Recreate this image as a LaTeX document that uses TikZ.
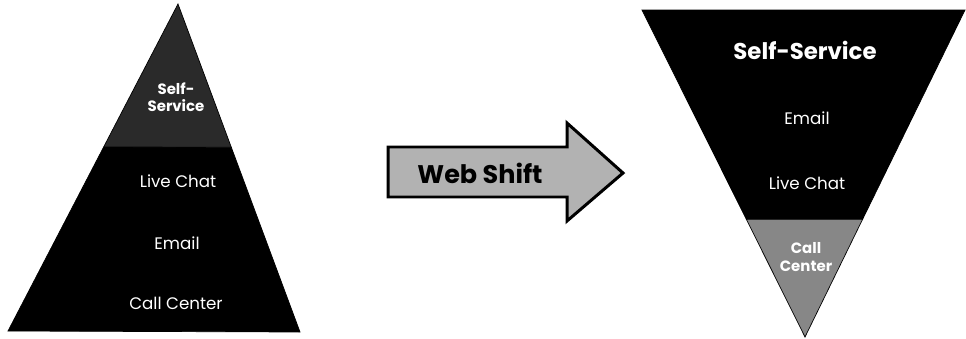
\documentclass[tikz,border=0pt]{standalone}
\usepackage{fontspec}
\setmainfont{Poppins}
\usepackage{xcolor}
\usepackage{tikz}
\usetikzlibrary{calc}
\definecolor{tipgray}{RGB}{42,42,42}
\definecolor{basegray}{RGB}{135,135,135}
\definecolor{shiftgray}{RGB}{178,178,178}
\tikzset{
  layer/.style={
    fill=black,
    draw=black,
    line join=miter
  },
  layer2/.style={
    fill=tipgray,
    draw=black,
    line join=miter
  },
  layer3/.style={
    fill=basegray,
    draw=black,
    line join=miter
  },
  lbl/.style={
    text=white,
    align=center,
    inner sep=0pt,
    font=\fontsize{9.5}{11}\selectfont
  },
  lblbold/.style={
    text=white,
    align=center,
    inner sep=0pt,
    font=\bfseries\fontsize{8.5}{10}\selectfont
  },
  shiftarrow/.style={
    fill=shiftgray,
    draw=black,
    line width=1.7pt,
    line join=miter
  }
}

\begin{document}
\begin{tikzpicture}[x=0.02cm,y=-0.02cm]
\useasboundingbox (0,0) rectangle (966,338);
% left pyramid
\coordinate (ltop) at (178,4);
\coordinate (lbl) at (8,331);
\coordinate (lbr) at (300,332);
\coordinate (lcutl) at ($(ltop)!0.437!(lbl)$);
\coordinate (lcutr) at ($(ltop)!0.437!(lbr)$);
\fill[layer] (lcutl) -- (lbl) -- (lbr) -- (lcutr) -- cycle;
\fill[layer2] (ltop) -- (lcutl) -- (lcutr) -- cycle;
\node[lblbold] (lself) at (176,97) {Self-\\Service};
\node[lbl] (lchat) at (178,181) {Live Chat};
\node[lbl] (lmail) at (177,243) {Email};
\node[lbl] (lcall) at (176,303) {Call Center};
% arrow
\draw[shiftarrow] (388,147) -- (567,147) -- (567,123) -- (623,173)
  -- (567,221) -- (567,197) -- (388,197) -- cycle;
\node[lbl, text=black, font=\bfseries\fontsize{14.5}{16}\selectfont] (shift) at (480,173) {Web Shift};
% right pyramid
\coordinate (rtl) at (642,10);
\coordinate (rtr) at (965,10);
\coordinate (rbot) at (805,337);
\coordinate (rcutl) at ($(rbot)!0.36!(rtl)$);
\coordinate (rcutr) at ($(rbot)!0.36!(rtr)$);
\fill[layer] (rtl) -- (rtr) -- (rcutr) -- (rcutl) -- cycle;
\fill[layer3] (rcutl) -- (rcutr) -- (rbot) -- cycle;
\node[lblbold, font=\bfseries\fontsize{13}{15}\selectfont] (rself) at (805,50) {Self-Service};
\node[lbl] (rmail) at (807,118) {Email};
\node[lbl] (rchat) at (807,183) {Live Chat};
\node[lblbold, font=\bfseries\fontsize{8.5}{10}\selectfont] (rcall) at (806,257) {Call\\Center};
\end{tikzpicture}
\end{document}
